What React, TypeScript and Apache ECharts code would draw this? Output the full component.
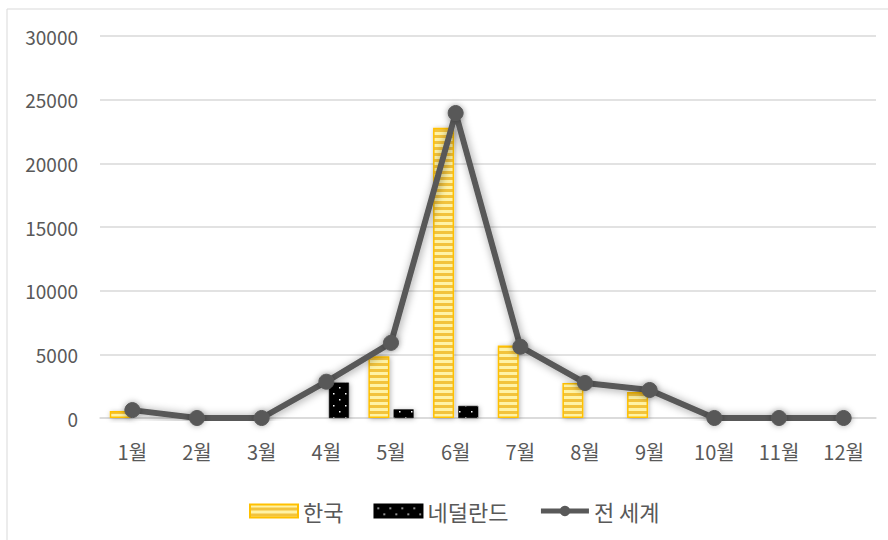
import React, { useEffect, useRef } from "react";
import * as echarts from "echarts";

const months = ["1월", "2월", "3월", "4월", "5월", "6월", "7월", "8월", "9월", "10월", "11월", "12월"];
const korea = [550, 0, 0, 0, 4850, 22800, 5700, 2750, 2050, 0, 0, 0];
const netherlands = [0, 0, 0, 2780, 680, 950, 0, 0, 0, 0, 0, 0];
const world = [620, 0, 0, 2850, 5900, 23950, 5600, 2750, 2200, 0, 0, 0];
const yMax = 30000;
const yStep = 5000;

const FONT = "'Noto Sans CJK KR', 'Noto Sans', sans-serif";
const TEXT = "#595959";

function stripePattern(): HTMLCanvasElement {
  const c = document.createElement("canvas");
  c.width = 8;
  c.height = 6;
  const ctx = c.getContext("2d")!;
  ctx.fillStyle = "#FFF3A6";
  ctx.fillRect(0, 0, 8, 6);
  ctx.fillStyle = "#F2C33E";
  ctx.fillRect(0, 3, 8, 3);
  return c;
}

function dotPattern(): HTMLCanvasElement {
  const c = document.createElement("canvas");
  c.width = 12;
  c.height = 12;
  const ctx = c.getContext("2d")!;
  ctx.fillStyle = "#000000";
  ctx.fillRect(0, 0, 12, 12);
  ctx.fillStyle = "#FFFFFF";
  ctx.fillRect(3, 3, 1.5, 1.5);
  ctx.fillRect(9, 9, 1.5, 1.5);
  return c;
}

export default function App() {
  const ref = useRef<HTMLDivElement>(null);
  useEffect(() => {
    if (!ref.current) return;
    const chart = echarts.init(ref.current, undefined, { renderer: "svg" });
    const stripes = stripePattern();
    const dots = dotPattern();
    const barShadow = {
      shadowBlur: 5,
      shadowColor: "rgba(0,0,0,0.3)",
      shadowOffsetX: 1,
      shadowOffsetY: 1,
    };
    chart.setOption({
      animation: false,
      backgroundColor: "#FFFFFF",
      textStyle: { fontFamily: FONT },
      graphic: [
        {
          type: "rect",
          shape: { x: 7, y: 9, width: 900, height: 560 },
          style: { fill: "none", stroke: "#D9D9D9", lineWidth: 1 },
          silent: true,
          z: -1,
        },
      ],
      grid: { left: 100, right: 12, top: 36, bottom: 122, containLabel: false },
      legend: {
        left: 244,
        top: 495,
        itemWidth: 48,
        itemHeight: 13,
        itemGap: 30,
        textStyle: { fontSize: 22, color: TEXT, fontFamily: FONT },
        data: [
          { name: "한국", icon: "rect" },
          { name: "네덜란드", icon: "rect" },
          {
            name: "전 세계",
            lineStyle: { color: "#595959", width: 5 },
            itemStyle: { color: "#595959" },
          },
        ],
      },
      xAxis: {
        type: "category",
        data: months,
        axisLine: { show: true, lineStyle: { color: "#D9D9D9", width: 1.5 } },
        axisTick: { show: false },
        axisLabel: { color: TEXT, fontSize: 20, margin: 23, fontFamily: FONT },
      },
      yAxis: {
        type: "value",
        min: 0,
        max: yMax,
        interval: yStep,
        axisLine: { show: false },
        axisTick: { show: false },
        splitLine: { lineStyle: { color: "#D9D9D9", width: 1.5 } },
        axisLabel: {
          color: TEXT,
          fontSize: 19,
          margin: 22,
          fontFamily: FONT,
          formatter: (v: number) => String(v),
        },
      },
      series: [
        {
          name: "한국",
          type: "bar",
          data: korea.map((v) => (v === 0 ? null : v)),
          barWidth: 21,
          barGap: "20%",
          itemStyle: {
            color: { image: stripes, repeat: "repeat" },
            borderColor: "#FFC000",
            borderWidth: 1.5,
            ...barShadow,
          },
        },
        {
          name: "네덜란드",
          type: "bar",
          data: netherlands.map((v) => (v === 0 ? null : v)),
          barWidth: 20,
          itemStyle: {
            color: { image: dots, repeat: "repeat" },
            borderColor: "#000000",
            borderWidth: 0.5,
            ...barShadow,
          },
        },
        {
          name: "전 세계",
          type: "line",
          data: world,
          symbol: "circle",
          symbolSize: 15,
          z: 5,
          lineStyle: {
            color: "#595959",
            width: 6,
            shadowBlur: 8,
            shadowColor: "rgba(0,0,0,0.4)",
            shadowOffsetX: 1,
            shadowOffsetY: 1,
          },
          itemStyle: {
            color: "#595959",
            borderColor: "#595959",
            shadowBlur: 6,
            shadowColor: "rgba(0,0,0,0.35)",
          },
        },
      ],
    });
    return () => chart.dispose();
  }, []);
  return (
    <div
      ref={ref}
      style={{ position: "fixed", left: 0, top: 0, width: 888, height: 540 }}
    />
  );
}
